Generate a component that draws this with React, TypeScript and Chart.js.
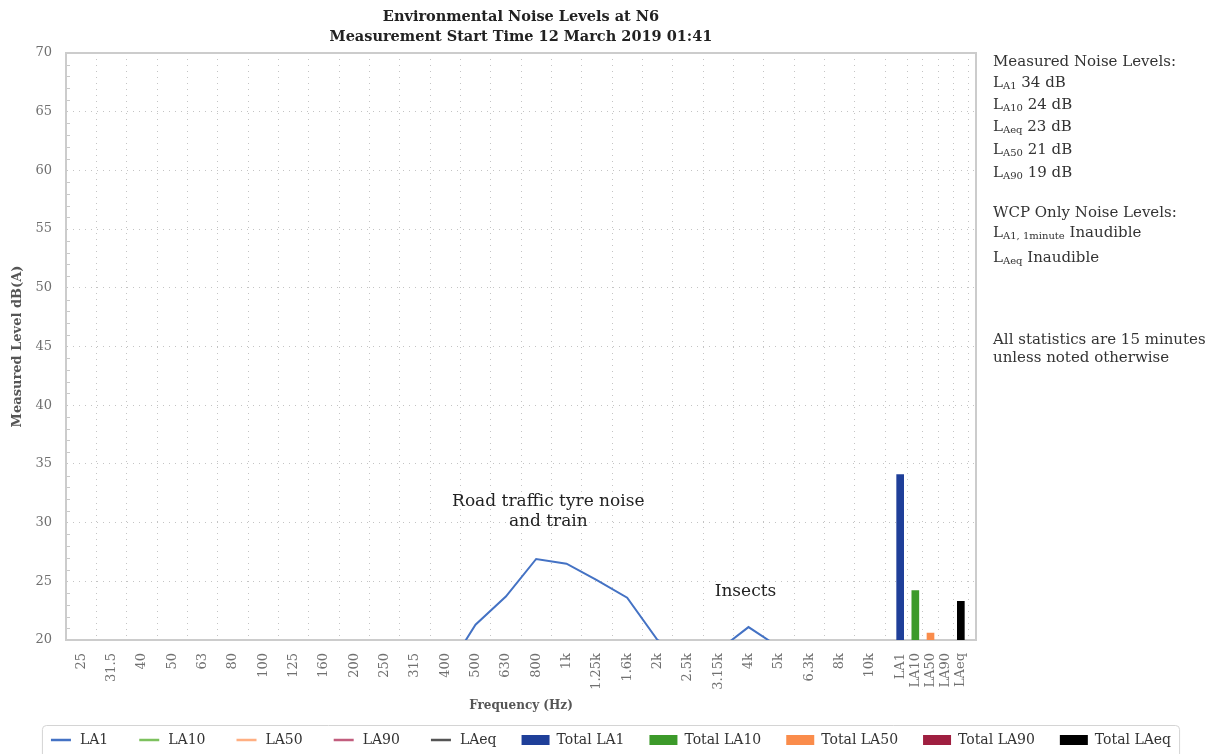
import React, { useEffect, useRef } from "react";
import { Chart, registerables } from "chart.js";

Chart.register(...registerables);

const FONT = "'DejaVu Serif', 'Liberation Serif', serif";

// ---------- data ----------
const frequencyLabels = [
  "25", "31.5", "40", "50", "63", "80", "100", "125", "160", "200", "250", "315", "400",
  "500", "630", "800", "1k", "1.25k", "1.6k", "2k", "2.5k", "3.15k", "4k", "5k", "6.3k", "8k", "10k",
];
const frequencyPositions = frequencyLabels.map((_, i) => i);
const totalLabels = ["LA1", "LA10", "LA50", "LA90", "LAeq"];
const totalPositions = [27, 27.5, 28, 28.5, 29];

const la1Values = [16.0, 15.5, 15.0, 14.5, 14.0, 13.5, 13.0, 13.5, 14.0, 14.5, 15.5, 16.0, 17.2,
  21.3, 23.7, 26.9, 26.5, 25.1, 23.6, 20.0, 18.6, 19.1, 21.1, 19.4, 17.0, 15.0, 13.0];
const la10Values = [12.0, 11.5, 11.0, 10.5, 10.0, 9.5, 9.0, 9.5, 10.0, 10.5, 11.0, 12.0, 13.5,
  16.5, 18.2, 18.9, 18.8, 18.4, 17.8, 16.2, 15.1, 16.0, 17.6, 16.3, 14.0, 12.0, 10.5];
const la50Values = [9.0, 8.5, 8.0, 7.5, 7.0, 6.5, 6.0, 6.5, 7.0, 7.5, 8.0, 9.0, 10.0,
  12.5, 14.2, 15.1, 15.0, 14.5, 13.6, 12.4, 11.5, 12.3, 13.5, 12.6, 10.8, 9.0, 7.8];
const la90Values = [7.5, 7.0, 6.5, 6.0, 5.5, 5.0, 4.5, 5.0, 5.5, 6.0, 6.5, 7.5, 8.5,
  10.8, 12.3, 13.2, 13.1, 12.6, 11.8, 10.7, 10.0, 10.6, 11.7, 10.9, 9.2, 7.7, 6.6];
const laeqValues = [12.5, 12.0, 11.5, 11.0, 10.5, 10.0, 9.5, 10.0, 10.5, 11.0, 11.5, 12.5, 14.0,
  17.0, 18.6, 19.0, 18.9, 18.6, 17.9, 16.5, 15.4, 16.2, 17.8, 16.7, 14.5, 12.5, 11.0];

const lineSeriesNames = ["LA1", "LA10", "LA50", "LA90", "LAeq"];
const lineSeriesValues = [la1Values, la10Values, la50Values, la90Values, laeqValues];
const lineSeriesColors = ["#4472C4", "#7DC15E", "#FFAF82", "#C25E7E", "#555555"];

const totalSeriesNames = ["Total LA1", "Total LA10", "Total LA50", "Total LA90", "Total LAeq"];
const totalValues = [34.1, 24.2, 20.6, 19.0, 23.3];
const totalColors = ["#1F3F99", "#3C9A2A", "#FA8C4B", "#9F1F40", "#000000"];

const yMin = 20;
const yMax = 70;
const yStep = 5;

const titleLines = ["Environmental Noise Levels at N6", "Measurement Start Time 12 March 2019 01:41"];
const xAxisTitle = "Frequency (Hz)";
const yAxisTitle = "Measured Level dB(A)";

const measuredHeading = "Measured Noise Levels:";
const measuredKeys = ["A1", "A10", "Aeq", "A50", "A90"];
const measuredLevels = [34, 24, 23, 21, 19];
const wcpHeading = "WCP Only Noise Levels:";
const wcpKeys = ["A1, 1minute", "Aeq"];
const wcpValues = ["Inaudible", "Inaudible"];
const noteLines = ["All statistics are 15 minutes", "unless noted otherwise"];

const annotationLines = [["Road traffic tyre noise", "and train"], ["Insects"]];
const annotationX = [15.4, 21.9];
const annotationY = [31.75, 24.1];

// ---------- helpers ----------
const tickValues = [...frequencyPositions, ...totalPositions];
const tickLabelMap = new Map<number, string>();
frequencyPositions.forEach((p, i) => tickLabelMap.set(p, frequencyLabels[i]));
totalPositions.forEach((p, i) => tickLabelMap.set(p, totalLabels[i]));

const frameAndTicks = {
  id: "frameAndTicks",
  beforeDatasetsDraw(chart: any) {
    const { ctx, chartArea } = chart;
    const y = chart.scales.y;
    ctx.save();
    ctx.strokeStyle = "#c9c9c9";
    ctx.lineWidth = 1;
    for (let v = yMin + 1; v < yMax; v++) {
      if (v % yStep === 0) continue;
      const py = Math.round(y.getPixelForValue(v)) + 0.5;
      ctx.beginPath();
      ctx.moveTo(chartArea.left, py);
      ctx.lineTo(chartArea.left + 4, py);
      ctx.stroke();
    }
    ctx.strokeStyle = "#cccccc";
    ctx.lineWidth = 2;
    ctx.strokeRect(chartArea.left, chartArea.top, chartArea.right - chartArea.left, chartArea.bottom - chartArea.top);
    ctx.restore();
  },
};

const annotations = {
  id: "annotations",
  afterDatasetsDraw(chart: any) {
    const { ctx } = chart;
    const xs = chart.scales.x;
    const ys = chart.scales.y;
    ctx.save();
    ctx.fillStyle = "#222";
    ctx.font = `17px ${FONT}`;
    ctx.textAlign = "center";
    ctx.textBaseline = "middle";
    annotationLines.forEach((lines, i) => {
      const px = xs.getPixelForValue(annotationX[i]);
      const py = ys.getPixelForValue(annotationY[i]);
      lines.forEach((t, k) => ctx.fillText(t, px, py + k * 20));
    });
    ctx.restore();
  },
};

const sidePanel = {
  id: "sidePanel",
  afterDraw(chart: any) {
    const { ctx, chartArea } = chart;
    const x0 = chartArea.right + 17;
    const big = `15px ${FONT}`;
    const small = `10px ${FONT}`;
    ctx.save();
    ctx.fillStyle = "#333";
    ctx.textAlign = "left";
    ctx.textBaseline = "middle";
    const rich = (parts: [string, boolean][], y: number) => {
      let x = x0;
      for (const [t, sub] of parts) {
        ctx.font = sub ? small : big;
        ctx.fillText(t, x, sub ? y + 3 : y);
        x += ctx.measureText(t).width;
      }
    };
    const measuredY = [83, 105, 127, 150, 173];
    rich([[measuredHeading, false]], 62);
    measuredKeys.forEach((k, i) =>
      rich([["L", false], [k, true], [` ${measuredLevels[i]} dB`, false]], measuredY[i])
    );
    rich([[wcpHeading, false]], 213);
    const wcpY = [233, 258];
    wcpKeys.forEach((k, i) => rich([["L", false], [k, true], [` ${wcpValues[i]}`, false]], wcpY[i]));
    const noteY = [340, 358];
    noteLines.forEach((t, i) => rich([[t, false]], noteY[i]));
    ctx.restore();
  },
};

const legendFrame = {
  id: "legendFrame",
  afterDraw(chart: any) {
    const lg = chart.legend;
    if (!lg || !lg.legendHitBoxes || !lg.legendHitBoxes.length) return;
    const hb = lg.legendHitBoxes;
    const first = hb[0];
    const last = hb[hb.length - 1];
    const left = first.left - 3;
    const right = last.left + last.width + 8;
    const top = first.top - 8;
    const { ctx } = chart;
    ctx.save();
    ctx.strokeStyle = "#d4d4d4";
    ctx.lineWidth = 1;
    ctx.beginPath();
    ctx.roundRect(left + 0.5, top + 0.5, right - left, 60, 4);
    ctx.stroke();
    ctx.restore();
  },
};

function makeLineSwatch(color: string) {
  const c = document.createElement("canvas");
  c.width = 28;
  c.height = 4;
  const g = c.getContext("2d")!;
  g.strokeStyle = color;
  g.lineWidth = 2.5;
  g.beginPath();
  g.moveTo(6, 2);
  g.lineTo(26, 2);
  g.stroke();
  return c;
}

export default function App() {
  const ref = useRef<HTMLCanvasElement | null>(null);

  useEffect(() => {
    if (!ref.current) return;
    const swatches = lineSeriesColors.map(makeLineSwatch);

    const lineDatasets = lineSeriesNames.map((name, s) => ({
      type: "line" as const,
      label: name,
      data: lineSeriesValues[s].map((v, i) => ({ x: frequencyPositions[i], y: v })),
      borderColor: lineSeriesColors[s],
      backgroundColor: lineSeriesColors[s],
      borderWidth: 2,
      pointRadius: 0,
      pointHoverRadius: 0,
      tension: 0,
      fill: false,
      clip: 0,
      xAxisID: "x",
      yAxisID: "y",
    }));
    const barDatasets = totalSeriesNames.map((name, s) => ({
      type: "bar" as const,
      label: name,
      data: [{ x: totalPositions[s], y: totalValues[s] }],
      backgroundColor: totalColors[s],
      borderColor: totalColors[s],
      borderWidth: 0,
      barThickness: 7,
      grouped: false,
      xAxisID: "x",
      yAxisID: "y",
    }));

    const gridCommon = { color: "#c4c4c4", lineWidth: 1, drawTicks: false };
    const borderCommon = { display: true, color: "#cccccc", width: 2, dash: [1, 5] };

    const chart = new Chart(ref.current, {
      type: "line",
      data: { datasets: [...lineDatasets, ...barDatasets] as any },
      plugins: [frameAndTicks, annotations, sidePanel, legendFrame],
      options: {
        animation: false,
        responsive: true,
        maintainAspectRatio: false,
        events: [],
        layout: { padding: 0 },
        scales: {
          x: {
            type: "linear",
            min: -0.5,
            max: 29.5,
            offset: false,
            afterBuildTicks: (axis: any) => {
              axis.ticks = tickValues.map((v) => ({ value: v }));
            },
            afterFit: (axis: any) => {
              axis.height = 68;
            },
            ticks: {
              autoSkip: false,
              minRotation: 90,
              maxRotation: 90,
              padding: 13,
              color: "#707070",
              font: { family: FONT, size: 13 },
              callback: (v: any) => tickLabelMap.get(Number(v)) ?? "",
            },
            grid: gridCommon,
            border: borderCommon,
            title: {
              display: true,
              text: xAxisTitle,
              color: "#555",
              font: { family: FONT, size: 12, weight: "bold" },
              padding: { top: 0, bottom: -5.5 },
            },
          },
          y: {
            type: "linear",
            position: "left",
            min: yMin,
            max: yMax,
            afterFit: (axis: any) => {
              axis.width = 66;
            },
            ticks: {
              stepSize: yStep,
              padding: 14,
              color: "#707070",
              font: { family: FONT, size: 13 },
            },
            grid: gridCommon,
            border: borderCommon,
            title: {
              display: true,
              text: yAxisTitle,
              color: "#555",
              font: { family: FONT, size: 13, weight: "bold" },
              padding: { top: 10, bottom: 0 },
            },
          },
          y2: {
            type: "linear",
            position: "right",
            display: true,
            ticks: { display: false },
            grid: { display: false },
            border: { display: false },
            afterFit: (axis: any) => {
              axis.width = 240;
            },
          },
        },
        plugins: {
          title: {
            display: true,
            text: titleLines,
            fullSize: false,
            color: "#222",
            font: { family: FONT, size: 14.5, weight: "bold", lineHeight: "20px" },
            padding: { top: 7, bottom: 6 },
          },
          legend: {
            display: true,
            position: "bottom",
            maxHeight: 46,
            labels: {
              usePointStyle: true,
              pointStyleWidth: 28,
              boxHeight: 10,
              padding: 25,
              color: "#333",
              font: { family: FONT, size: 14 },
              generateLabels: (ch: any) => {
                const items = (Chart.defaults.plugins.legend.labels as any).generateLabels(ch);
                return items.map((it: any) => {
                  const ds: any = ch.data.datasets[it.datasetIndex];
                  if (ds.type === "line") {
                    return { ...it, pointStyle: swatches[it.datasetIndex] };
                  }
                  return { ...it, pointStyle: "rect", lineWidth: 0, fillStyle: ds.backgroundColor, strokeStyle: ds.backgroundColor };
                });
              },
            },
          },
          tooltip: { enabled: false },
        },
      } as any,
    });
    return () => chart.destroy();
  }, []);

  return (
    <div style={{ position: "fixed", left: 0, top: 0, width: 1216, height: 754, background: "#fff" }}>
      <canvas ref={ref} />
    </div>
  );
}
